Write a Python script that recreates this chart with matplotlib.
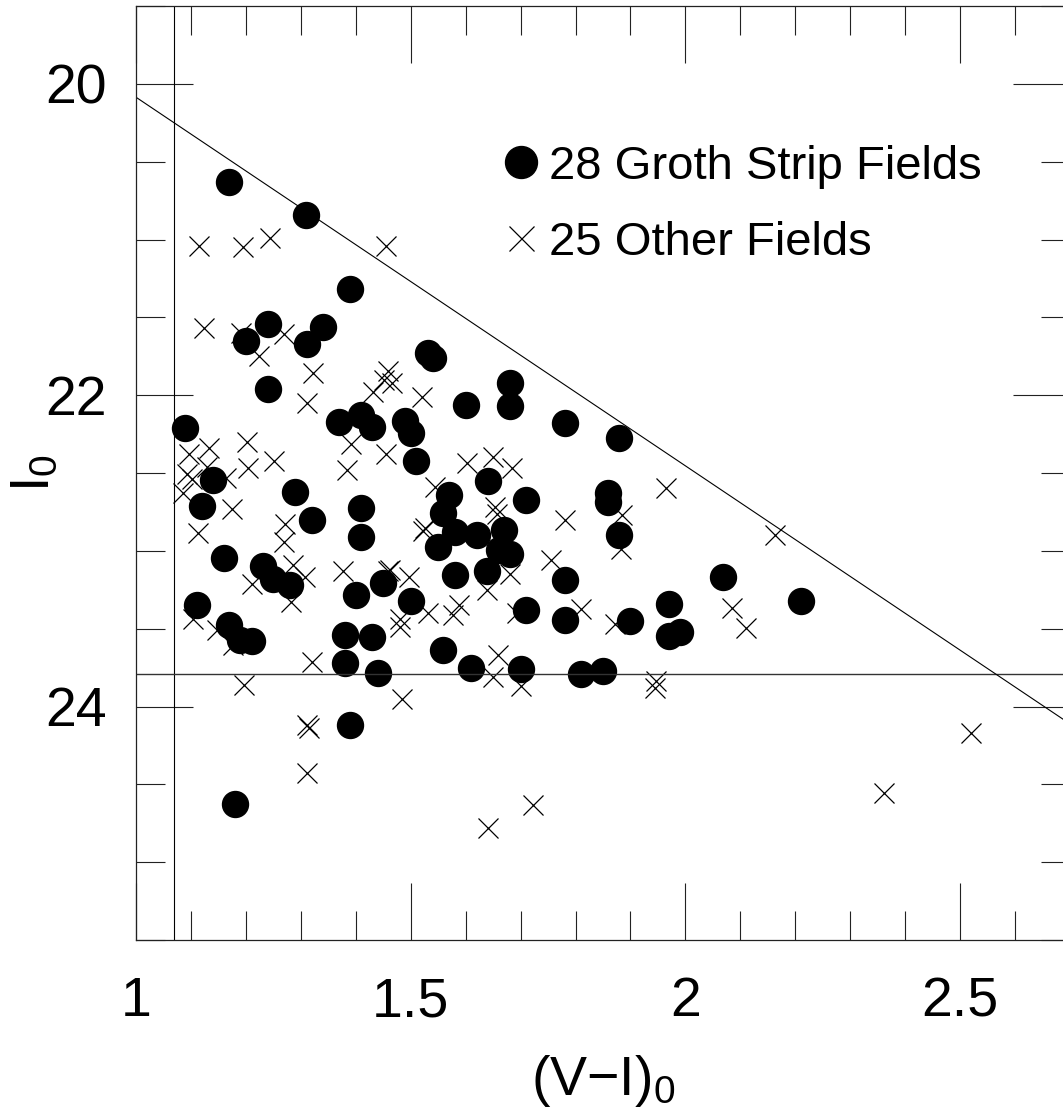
import numpy as np
import matplotlib
matplotlib.use('Agg')
import matplotlib.pyplot as plt
from matplotlib.ticker import MultipleLocator

plt.rcParams['font.family'] = ['Liberation Sans', 'DejaVu Sans']
plt.rcParams['mathtext.fontset'] = 'custom'
plt.rcParams['mathtext.rm'] = 'Liberation Sans'
plt.rcParams['mathtext.it'] = 'Liberation Sans:italic'

# Groth Strip objects: (V-I)_0 and I_0
groth_vi = [1.170, 1.310, 1.390, 1.200, 1.240, 1.311, 1.340, 1.240, 1.090, 1.370,
            1.410, 1.430, 1.490, 1.500, 1.531, 1.540, 1.681, 1.681, 1.600, 1.780,
            1.880, 1.510, 1.640, 1.570, 1.559, 1.581, 1.550, 1.620, 1.670, 1.660,
            1.680, 1.710, 1.860, 1.860, 1.880, 2.069, 1.581, 1.639, 1.780, 1.450,
            1.500, 1.709, 1.780, 1.899, 1.970, 1.970, 1.990, 1.559, 1.610, 1.700,
            1.810, 1.850, 1.440, 1.141, 1.120, 1.290, 1.320, 1.410, 1.410, 1.161,
            1.231, 1.250, 1.280, 1.401, 1.111, 1.170, 1.189, 1.211, 1.380, 1.430,
            1.380, 1.390, 1.181, 2.210]
groth_i = [20.632, 20.842, 21.318, 21.653, 21.542, 21.672, 21.561, 21.961, 22.210, 22.172,
           22.129, 22.204, 22.167, 22.242, 21.732, 21.764, 21.925, 22.071, 22.060, 22.182,
           22.272, 22.423, 22.553, 22.644, 22.760, 22.879, 22.976, 22.900, 22.868, 22.997,
           23.023, 22.671, 22.630, 22.688, 22.900, 23.170, 23.158, 23.132, 23.190, 23.209,
           23.323, 23.383, 23.443, 23.453, 23.342, 23.550, 23.522, 23.640, 23.754, 23.762,
           23.790, 23.773, 23.783, 22.542, 22.714, 22.624, 22.804, 22.725, 22.911, 23.046,
           23.097, 23.179, 23.222, 23.282, 23.351, 23.475, 23.576, 23.582, 23.543, 23.554,
           23.722, 24.122, 24.626, 23.323]

# objects in the other fields
other_vi = [1.115, 1.194, 1.244, 1.455, 1.123, 1.191, 1.269, 1.223, 1.322, 1.451,
            1.459, 1.466, 1.431, 1.311, 1.391, 1.455, 1.096, 1.133, 1.202, 1.203,
            1.251, 1.384, 1.093, 1.102, 1.086, 1.129, 1.164, 1.175, 1.272, 1.269,
            1.112, 1.285, 1.376, 1.459, 1.308, 1.211, 1.283, 1.103, 1.147, 1.177,
            1.320, 1.197, 1.312, 1.314, 1.312, 1.520, 1.602, 1.649, 1.685, 1.544,
            1.654, 1.657, 1.522, 1.526, 1.781, 1.755, 1.884, 1.882, 1.965, 2.163,
            1.462, 1.496, 1.681, 1.638, 1.481, 1.481, 1.532, 1.577, 1.587, 1.693,
            1.810, 1.871, 2.084, 2.110, 1.658, 1.649, 1.700, 1.947, 1.945, 1.484,
            1.723, 1.640, 2.520, 2.362]
other_i = [21.042, 21.046, 20.988, 21.042, 21.567, 21.603, 21.610, 21.749, 21.860, 21.904,
           21.846, 21.923, 21.979, 22.053, 22.311, 22.375, 22.375, 22.339, 22.300, 22.471,
           22.424, 22.482, 22.508, 22.540, 22.630, 22.463, 22.534, 22.729, 22.825, 22.943,
           22.886, 23.093, 23.132, 23.132, 23.169, 23.211, 23.329, 23.436, 23.511, 23.608,
           23.715, 23.865, 24.120, 24.135, 24.429, 22.011, 22.435, 22.397, 22.465, 22.590,
           22.718, 22.761, 22.873, 22.855, 22.804, 23.057, 22.772, 22.986, 22.594, 22.900,
           23.126, 23.169, 23.147, 23.254, 23.436, 23.490, 23.400, 23.410, 23.346, 23.402,
           23.372, 23.468, 23.368, 23.494, 23.668, 23.812, 23.871, 23.837, 23.880, 23.951,
           24.630, 24.783, 24.172, 24.558]

# selection limits
vi_min = 1.07
i_lim = 23.79
diag_start = (1.0, 20.086)
diag_slope = 2.368

fig = plt.figure(figsize=(10.63, 11.13), dpi=100)
ax = fig.add_axes([136 / 1063, 173 / 1113, 934 / 1063, 934 / 1113])

ax.plot(groth_vi, groth_i, 'o', color='black', markersize=18.7, ls='none',
        label='28 Groth Strip Fields')
ax.plot(other_vi, other_i, 'x', color='black', markersize=14.5, mew=0.9, ls='none',
        label='25 Other Fields')

ax.axvline(vi_min, color='black', lw=0.8)
ax.axhline(i_lim, color='#333333', lw=1.0)
ax.axline(diag_start, slope=diag_slope, color='black', lw=0.8)

ax.set_xlim(1.0, 2.7)
ax.set_ylim(25.5, 19.5)

ax.xaxis.set_major_locator(MultipleLocator(0.5))
ax.xaxis.set_minor_locator(MultipleLocator(0.1))
ax.yaxis.set_major_locator(MultipleLocator(2))
ax.yaxis.set_minor_locator(MultipleLocator(0.5))
ax.set_xticks([1, 1.5, 2, 2.5])
ax.set_xticklabels(['1', '1.5', '2', '2.5'])
ax.set_yticks([20, 22, 24])
ax.set_yticklabels(['20', '22', '24'])

ax.tick_params(which='both', direction='in', top=True, right=True, width=0.8,
               labelsize=40, color='#222222')
ax.tick_params(which='major', length=41)
ax.tick_params(which='minor', length=21)
ax.tick_params(axis='x', which='major', pad=26)
ax.tick_params(axis='y', which='major', pad=21)
for sp in ax.spines.values():
    sp.set_linewidth(0.9)
    sp.set_color('#222222')

ax.set_xlabel('(V\u2212I)$_0$', fontsize=40)
ax.set_ylabel('I$_0$', fontsize=40)
ax.xaxis.set_label_coords(0.5, -0.121)
ax.yaxis.set_label_coords(-0.08, 0.5)

leg = ax.legend(loc='center left', bbox_to_anchor=(0.3966, 0.787), frameon=False,
                fontsize=34, handlelength=0.6, handletextpad=0.3, borderpad=0,
                borderaxespad=0, labelspacing=0.68)
leg.legend_handles[0].set_markersize(23)
leg.legend_handles[1].set_markersize(18)

fig.savefig('out.png', dpi=100)
